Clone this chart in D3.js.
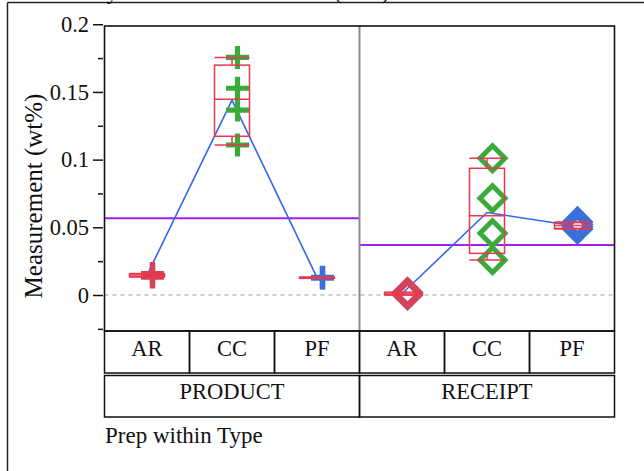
<!DOCTYPE html>
<html>
<head>
<meta charset="utf-8">
<script src="https://cdn.jsdelivr.net/npm/d3@7"></script>
<style>
  html, body { margin: 0; padding: 0; background: #fff; }
  svg { display: block; }
  text { font-family: "Liberation Serif", "Times New Roman", serif; fill: #111; }
</style>
</head>
<body>
<svg id="chart" width="644" height="471"></svg>
<script>
// ---------------- data ----------------
const types = ["PRODUCT", "RECEIPT"];
const preps = ["AR", "CC", "PF"];
const productAR = [0.0132, 0.0145, 0.0150, 0.0158];
const productCC = [0.1755, 0.1527, 0.1366, 0.1108];
const productPF = [0.0126, 0.0128, 0.0129, 0.0131];
const receiptAR = [0.0000, 0.0004, 0.0012, 0.0020];
const receiptCC = [0.1010, 0.0714, 0.0456, 0.0258];
const receiptPF = [0.0488, 0.0505, 0.0520, 0.0540];
const grandMeans = [0.0566, 0.0369];
const majorTicks = [0, 0.05, 0.1, 0.15, 0.2];
const minorTicks = [-0.025, 0.025, 0.075, 0.125, 0.175];
const yTitle = "Measurement (wt%)";
const xTitle = "Prep within Type";
const chartTitle = "Variability Chart for Measurement (wt%)";

const groups = [
  {type: "PRODUCT", prep: "AR", values: productAR},
  {type: "PRODUCT", prep: "CC", values: productCC},
  {type: "PRODUCT", prep: "PF", values: productPF},
  {type: "RECEIPT", prep: "AR", values: receiptAR},
  {type: "RECEIPT", prep: "CC", values: receiptCC},
  {type: "RECEIPT", prep: "PF", values: receiptPF}
];

const prepColor = {AR: "#d4435a", CC: "#3aab3a", PF: "#3c6fd9"};
const boxColor = "#e8394f";
const meanLineColor = "#3366f0";
const grandColor = "#a21ff0";

// ---------------- layout ----------------
const svg = d3.select("#chart");
const L = 104.5, R = 614.5, T = 26, B = 331;
const keyOf = g => g.type + "|" + g.prep;

const x = d3.scaleBand().domain(groups.map(keyOf)).range([L, R]).padding(0);
const xType = d3.scaleBand().domain(types).range([L, R]).padding(0);
const y = d3.scaleLinear().domain([-0.0266, 0.1987]).range([B, T]);

// outer frame (left/top only visible)
svg.append("line").attr("x1", 7.5).attr("x2", 7.5).attr("y1", 2.5).attr("y2", 471)
  .attr("stroke", "#222").attr("stroke-width", 1.5);
svg.append("line").attr("x1", 7.5).attr("x2", 644).attr("y1", 2.5).attr("y2", 2.5)
  .attr("stroke", "#222").attr("stroke-width", 1.5);
// title, cut off at the top edge as in the reference
svg.append("text").attr("x", 25).attr("y", -1.5).attr("font-size", 22).text(chartTitle);

// zero reference
svg.append("line").attr("x1", L).attr("x2", R).attr("y1", y(0)).attr("y2", y(0))
  .attr("stroke", "#bdbdbd").attr("stroke-width", 1.3).attr("stroke-dasharray", "4,4");

// grand mean lines
types.forEach((t, i) => {
  svg.append("line")
    .attr("x1", xType(t)).attr("x2", xType(t) + xType.bandwidth())
    .attr("y1", y(grandMeans[i])).attr("y2", y(grandMeans[i]))
    .attr("stroke", grandColor).attr("stroke-width", 2);
});

// panel divider
svg.append("line").attr("x1", xType("RECEIPT")).attr("x2", xType("RECEIPT"))
  .attr("y1", T).attr("y2", B).attr("stroke", "#8a8a8a").attr("stroke-width", 2);

// group mean lines
types.forEach(t => {
  const gs = groups.filter(g => g.type === t);
  const line = d3.line()
    .x(g => x(keyOf(g)) + x.bandwidth() / 2)
    .y(g => y(d3.mean(g.values)));
  svg.append("path").datum(gs).attr("d", line)
    .attr("fill", "none").attr("stroke", meanLineColor).attr("stroke-width", 1.6);
});

// markers
const ptOffset = 5.5;
groups.forEach(g => {
  const cx = x(keyOf(g)) + x.bandwidth() / 2 + ptOffset;
  const col = prepColor[g.prep];
  g.values.forEach(v => {
    const cy = y(v);
    if (g.type === "PRODUCT") {
      const a = 11.5;
      svg.append("path")
        .attr("d", `M${cx - a},${cy}H${cx + a}M${cx},${cy - a}V${cy + a}`)
        .attr("stroke", col).attr("stroke-width", 5.2).attr("fill", "none");
    } else {
      const a = 12.5;
      svg.append("path")
        .attr("d", `M${cx},${cy - a}L${cx + a},${cy}L${cx},${cy + a}L${cx - a},${cy}Z`)
        .attr("stroke", col).attr("stroke-width", 5).attr("fill", "none");
    }
  });
});

// box plots
function q(vals, p) {
  const s = vals.slice().sort((a, b) => a - b);
  const n = s.length;
  const pos = (n + 1) * p;
  const lo = Math.max(1, Math.min(n, Math.floor(pos)));
  const hi = Math.max(1, Math.min(n, Math.ceil(pos)));
  const f = pos - Math.floor(pos);
  return s[lo - 1] + (s[hi - 1] - s[lo - 1]) * f;
}
const boxW = 35;
groups.forEach(g => {
  const c = x(keyOf(g)) + x.bandwidth() / 2;
  const q1 = q(g.values, 0.25), q3 = q(g.values, 0.75), med = q(g.values, 0.5);
  const mn = d3.min(g.values), mx = d3.max(g.values);
  const gg = svg.append("g").attr("stroke", boxColor).attr("stroke-width", 1.5).attr("fill", "none");
  gg.append("rect").attr("x", c - boxW / 2).attr("width", boxW)
    .attr("y", y(q3)).attr("height", Math.max(1, y(q1) - y(q3)));
  gg.append("line").attr("x1", c - boxW / 2).attr("x2", c + boxW / 2).attr("y1", y(med)).attr("y2", y(med));
  gg.append("line").attr("x1", c).attr("x2", c).attr("y1", y(q3)).attr("y2", y(mx));
  gg.append("line").attr("x1", c).attr("x2", c).attr("y1", y(q1)).attr("y2", y(mn));
  gg.append("line").attr("x1", c - boxW / 2).attr("x2", c + boxW / 2).attr("y1", y(mx)).attr("y2", y(mx));
  gg.append("line").attr("x1", c - boxW / 2).attr("x2", c + boxW / 2).attr("y1", y(mn)).attr("y2", y(mn));
});

// plot frame
svg.append("rect").attr("x", L).attr("y", T).attr("width", R - L).attr("height", B - T)
  .attr("fill", "none").attr("stroke", "#111").attr("stroke-width", 1.6);

// y axis
const axMajor = d3.axisLeft(y).tickValues(majorTicks).tickSize(10).tickPadding(4)
  .tickFormat(d => d3.format("")(+d.toFixed(3)));
const gMaj = svg.append("g").attr("transform", `translate(${L - 1.5},0)`).call(axMajor);
gMaj.select(".domain").remove();
gMaj.selectAll("line").attr("stroke", "#111").attr("stroke-width", 1.5);
gMaj.selectAll("text").attr("font-size", 22.5).attr("font-family", "Liberation Serif").attr("fill", "#111");
const axMinor = d3.axisLeft(y).tickValues(minorTicks).tickSize(5).tickFormat("");
const gMin = svg.append("g").attr("transform", `translate(${L - 1.5},0)`).call(axMinor);
gMin.select(".domain").remove();
gMin.selectAll("line").attr("stroke", "#111").attr("stroke-width", 1.5);

svg.append("text").attr("transform", `translate(42,${196}) rotate(-90)`)
  .attr("text-anchor", "middle").attr("font-size", 25).text(yTitle);

// category table
const r1T = 331, r1B = 373, r2T = 375.5, r2B = 417;
const tbl = svg.append("g").attr("stroke", "#111").attr("stroke-width", 1.5).attr("fill", "none");
groups.forEach(g => {
  tbl.append("rect").attr("x", x(keyOf(g))).attr("y", r1T).attr("width", x.bandwidth()).attr("height", r1B - r1T);
  svg.append("text").attr("x", x(keyOf(g)) + x.bandwidth() / 2).attr("y", 356)
    .attr("text-anchor", "middle").attr("font-size", 22.5).text(g.prep);
});
types.forEach(t => {
  tbl.append("rect").attr("x", xType(t)).attr("y", r2T).attr("width", xType.bandwidth()).attr("height", r2B - r2T);
  svg.append("text").attr("x", xType(t) + xType.bandwidth() / 2).attr("y", 399)
    .attr("text-anchor", "middle").attr("font-size", 22.5).text(t);
});
svg.append("text").attr("x", 105).attr("y", 443).attr("font-size", 23).text(xTitle);
</script>
</body>
</html>
